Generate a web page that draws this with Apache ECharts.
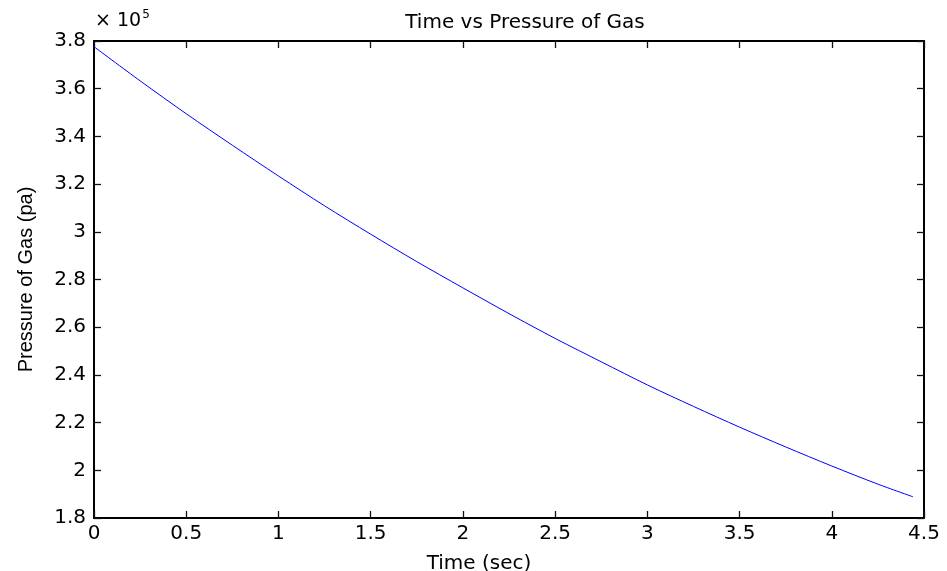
<!DOCTYPE html>
<html>
<head>
<meta charset="utf-8">
<script src="https://cdn.jsdelivr.net/npm/echarts@6/dist/echarts.min.js"></script>
<style>html,body{margin:0;padding:0;background:#fff}#c{width:947px;height:571px}</style>
</head>
<body>
<div id="c"></div>
<script>
var timeSec = [0, 0.25, 0.5, 0.75, 1.0, 1.25, 1.5, 1.75, 2.0, 2.25, 2.5, 2.75, 3.0, 3.25, 3.5, 3.75, 4.0, 4.25, 4.44];
var pressurePa = [377600, 363300, 349500, 336300, 323400, 310900, 299000, 287500, 276500, 265700, 255300, 245500, 235800, 226800, 218100, 209800, 201800, 194200, 188900];
var xTicks = ['0', '0.5', '1', '1.5', '2', '2.5', '3', '3.5', '4', '4.5'];
var yTicks = ['1.8', '2', '2.2', '2.4', '2.6', '2.8', '3', '3.2', '3.4', '3.6', '3.8'];

var FONT = 'DejaVu Sans';
var seriesData = timeSec.map(function (t, i) { return [t, pressurePa[i]]; });
var chart = echarts.init(document.getElementById('c'), null, { renderer: 'canvas' });
function axLine() { return { show: true, onZero: false, lineStyle: { color: '#000', width: 2 } }; }
function axTick() { return { show: true, inside: true, length: 7, lineStyle: { color: '#111', width: 1.3 } }; }
function xLabel(v) { var i = Math.round(v / 0.5); return xTicks[i]; }
function yLabel(v) { var i = Math.round((v - 180000) / 20000); return yTicks[i]; }
chart.setOption({
  animation: false,
  backgroundColor: '#fff',
  title: {
    text: 'Time vs Pressure of Gas',
    left: 520, top: 8, textAlign: 'center',
    textStyle: { fontFamily: FONT, fontSize: 20, fontWeight: 'normal', color: '#000' }
  },
  grid: { left: 94, right: 23, top: 41, bottom: 53, containLabel: false, outerBoundsMode: 'none' },
  xAxis: [{
    type: 'value', min: 0, max: 4.5, interval: 0.5, position: 'bottom',
    name: 'Time (sec)', nameLocation: 'middle', nameGap: 36,
    nameTextStyle: { fontFamily: FONT, fontSize: 20, color: '#000', padding: [0, 60, 0, 0] },
    axisLine: axLine(), axisTick: axTick(),
    axisLabel: { fontFamily: FONT, fontSize: 20, color: '#000', margin: 6, formatter: xLabel, showMaxLabel: true, showMinLabel: true },
    splitLine: { show: false }
  }, {
    type: 'value', min: 0, max: 4.5, interval: 0.5, position: 'top',
    axisLine: axLine(), axisTick: axTick(),
    axisLabel: { show: false }, splitLine: { show: false }
  }],
  yAxis: [{
    type: 'value', min: 180000, max: 380000, interval: 20000, position: 'left',
    name: 'Pressure of Gas (pa)', nameLocation: 'middle', nameGap: 58,
    nameTextStyle: { fontFamily: 'Liberation Sans', fontSize: 20, color: '#000' },
    axisLine: axLine(), axisTick: axTick(),
    axisLabel: { fontFamily: FONT, fontSize: 20, color: '#000', margin: 8, formatter: yLabel, showMaxLabel: true, showMinLabel: true },
    splitLine: { show: false }
  }, {
    type: 'value', min: 180000, max: 380000, interval: 20000, position: 'right',
    axisLine: axLine(), axisTick: axTick(),
    axisLabel: { show: false }, splitLine: { show: false }
  }],
  graphic: [{
    type: 'text', left: 95, top: 9,
    style: {
      text: '{a|× 10}{b|5}',
      rich: {
        a: { fontFamily: FONT, fontSize: 19, fill: '#000', verticalAlign: 'bottom' },
        b: { fontFamily: FONT, fontSize: 12, fill: '#000', verticalAlign: 'top', padding: [0, 0, 10, 1] }
      }
    }
  }],
  series: [{
    type: 'line', data: seriesData, smooth: 0.3, showSymbol: false,
    lineStyle: { color: '#0000ff', width: 1 }, xAxisIndex: 0, yAxisIndex: 0
  }]
});
</script>
</body>
</html>
